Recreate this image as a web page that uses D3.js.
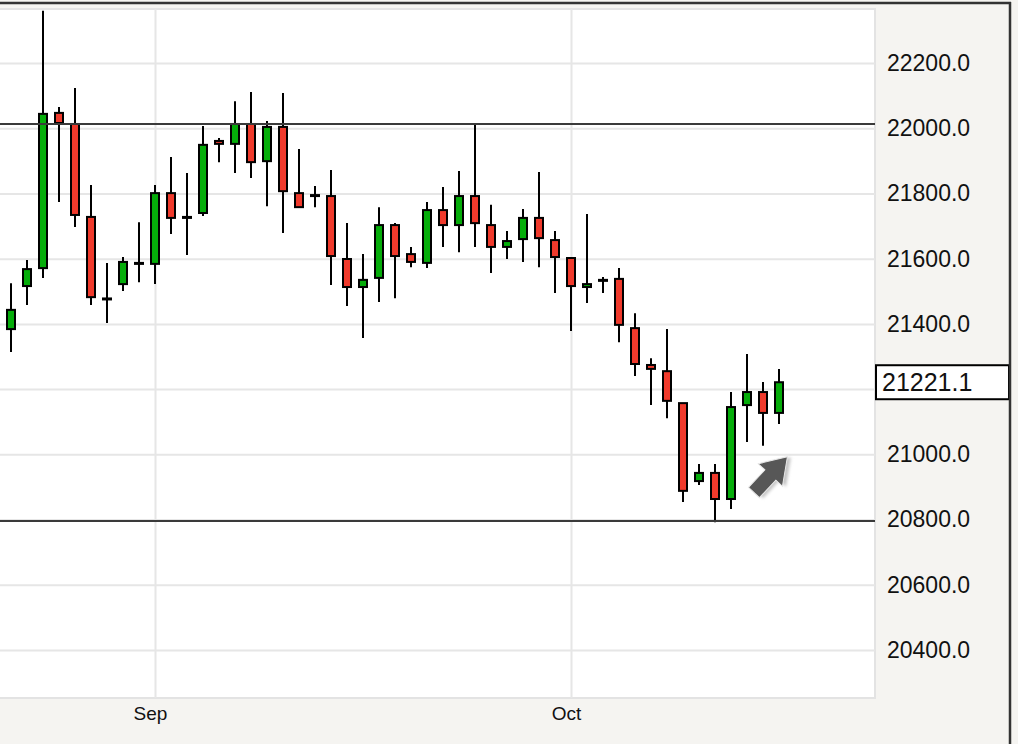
<!DOCTYPE html>
<html>
<head>
<meta charset="utf-8">
<script src="https://cdn.jsdelivr.net/npm/d3@7"></script>
<style>
  body { margin: 0; background: #f5f4f1; }
  svg { display: block; font-family: "Liberation Sans", Arial, sans-serif; }
</style>
</head>
<body>
<script>
// candle index (-1 is the one cut off at the left edge)
var days = d3.range(-1, 49);
var opens = [21341, 21384, 21516, 21571, 22047, 22013, 21728, 21478, 21522, 21587,
  21584, 21801, 21728, 21740, 21961, 21952, 22013, 21899, 22004, 21801,
  21795, 21792, 21599, 21513, 21541, 21703, 21614, 21587, 21749, 21703,
  21792, 21703, 21636, 21660, 21725, 21657, 21602, 21513, 21535, 21538,
  21387, 21274, 21255, 21157, 20918, 20943, 20863, 21151, 21191, 21127];
var highs = [21400, 21525, 21596, 22360, 22065, 22123, 21826, 21587, 21605, 21712,
  21826, 21912, 21863, 22007, 21970, 22083, 22111, 22022, 22108, 21936,
  21823, 21872, 21709, 21614, 21758, 21709, 21636, 21774, 21820, 21869,
  22013, 21765, 21685, 21752, 21866, 21685, 21605, 21737, 21544, 21571,
  21433, 21295, 21384, 21157, 20970, 20970, 21191, 21308, 21222, 21262];
var lows = [21320, 21314, 21458, 21541, 21774, 21697, 21458, 21403, 21501, 21528,
  21522, 21676, 21611, 21731, 21896, 21863, 21847, 21761, 21679, 21755,
  21758, 21519, 21455, 21357, 21467, 21479, 21574, 21571, 21636, 21620,
  21636, 21556, 21599, 21590, 21574, 21495, 21378, 21464, 21495, 21344,
  21240, 21151, 21111, 20854, 20906, 20792, 20832, 21038, 21026, 21093];
var closes = [21375, 21443, 21568, 22044, 22016, 21734, 21482, 21478, 21590, 21587,
  21801, 21725, 21728, 21949, 21952, 22013, 21896, 22004, 21807, 21758,
  21795, 21608, 21513, 21535, 21703, 21608, 21590, 21749, 21703, 21792,
  21709, 21636, 21654, 21725, 21663, 21605, 21516, 21522, 21535, 21397,
  21277, 21262, 21164, 20888, 20943, 20863, 21145, 21191, 21127, 21221.1];

var monthTicks = [9, 35];
var monthLabels = ["Sep", "Oct"];
var priceTicks = [20400, 20600, 20800, 21000, 21200, 21400, 21600, 21800, 22000, 22200];
var levels = [22013, 20795];
var lastPrice = 21221.1;

var width = 1018, height = 744;
var plot = {left: 0, right: 875, top: 9, bottom: 698};
var green = "#05ad0a", red = "#f03a2c";

var svg = d3.select("body").append("svg")
  .attr("width", width)
  .attr("height", height);

svg.append("rect")
  .attr("width", width).attr("height", height)
  .attr("fill", "#f5f4f1");

var x = d3.scaleLinear().domain([0, 48]).range([11, 779]);
var y = d3.scaleLinear().domain([20400, 22200]).range([650, 63]);

svg.append("defs").append("clipPath").attr("id", "plotclip")
  .append("rect")
  .attr("x", plot.left).attr("y", plot.top)
  .attr("width", plot.right - plot.left).attr("height", plot.bottom - plot.top);

svg.append("rect")
  .attr("x", plot.left - 2).attr("y", plot.top)
  .attr("width", plot.right - plot.left + 2).attr("height", plot.bottom - plot.top)
  .attr("fill", "#fff")
  .attr("stroke", "#e3e3e3")
  .attr("stroke-width", 2);

// price axis + horizontal grid
var yAxis = svg.append("g")
  .attr("transform", "translate(" + plot.right + ",0)")
  .call(d3.axisRight(y)
    .tickValues(priceTicks)
    .tickFormat(d3.format(".1f"))
    .tickSize(-(plot.right - plot.left))
    .tickPadding(12));
yAxis.select(".domain").remove();
yAxis.selectAll(".tick line").attr("stroke", "#e6e6e6").attr("stroke-width", 2);
yAxis.selectAll(".tick text")
  .attr("fill", "#111")
  .style("font-size", "23px")
  .filter(d => d === 21200).remove();

// month axis + vertical grid
var xAxis = svg.append("g")
  .attr("transform", "translate(0," + plot.bottom + ")")
  .call(d3.axisBottom(x)
    .tickValues(monthTicks)
    .tickFormat((d, i) => monthLabels[i])
    .tickSize(-(plot.bottom - plot.top))
    .tickPadding(9));
xAxis.select(".domain").remove();
xAxis.selectAll(".tick line").attr("stroke", "#e6e6e6").attr("stroke-width", 2);
xAxis.selectAll(".tick text")
  .attr("fill", "#111")
  .attr("dx", -5)
  .style("font-size", "19px");

// candles
var candles = svg.append("g")
  .attr("clip-path", "url(#plotclip)")
  .selectAll("g")
  .data(days)
  .enter()
  .append("g");

candles.append("line")
  .attr("x1", (d, i) => x(d))
  .attr("x2", (d, i) => x(d))
  .attr("y1", (d, i) => y(highs[i]))
  .attr("y2", (d, i) => y(lows[i]))
  .attr("stroke", "#000")
  .attr("stroke-width", 2);

candles.append("rect")
  .attr("x", d => x(d) - 4)
  .attr("width", 8)
  .attr("y", (d, i) => y(Math.max(opens[i], closes[i])))
  .attr("height", (d, i) => Math.max(1, Math.abs(y(opens[i]) - y(closes[i]))))
  .attr("fill", (d, i) => closes[i] > opens[i] ? green : closes[i] < opens[i] ? red : "#000")
  .attr("stroke", "#000")
  .attr("stroke-width", 2);

// support / resistance
svg.append("g")
  .selectAll("line")
  .data(levels)
  .enter()
  .append("line")
  .attr("x1", plot.left).attr("x2", plot.right)
  .attr("y1", d => Math.round(y(d)))
  .attr("y2", d => Math.round(y(d)))
  .attr("stroke", "#3a3a3a")
  .attr("stroke-width", 2);

// arrow
var defs = svg.select("defs");
var f = defs.append("filter").attr("id", "shadow")
  .attr("x", "-50%").attr("y", "-50%").attr("width", "200%").attr("height", "200%");
f.append("feGaussianBlur").attr("stdDeviation", 1.6);

var arrowPath = "M0,-7.5 L24,-7.5 L24,-16.5 L49,0 L24,16.5 L24,7.5 L0,7.5 Z";
var arrow = svg.append("g")
  .attr("transform", "translate(" + (x(46) + 7) + "," + (y(20800) - 27) + ") rotate(-47)");
arrow.append("path")
  .attr("d", arrowPath)
  .attr("transform", "translate(2,3)")
  .attr("fill", "#c4c4c4")
  .attr("filter", "url(#shadow)");
arrow.append("path")
  .attr("d", arrowPath)
  .attr("fill", "#575757")
  .attr("stroke", "#e8e8e8")
  .attr("stroke-width", 1);

// last price box
var box = svg.append("g")
  .attr("transform", "translate(" + plot.right + "," + y(lastPrice) + ")");
box.append("rect")
  .attr("x", 1).attr("y", -17)
  .attr("width", 133).attr("height", 34)
  .attr("fill", "#fff")
  .attr("stroke", "#000")
  .attr("stroke-width", 2);
box.append("text")
  .attr("x", 7).attr("dy", "0.35em")
  .attr("fill", "#111")
  .style("font-size", "25px")
  .text(d3.format(".1f")(lastPrice));

// outer frame
svg.append("line")
  .attr("x1", 0).attr("x2", 1011).attr("y1", 3).attr("y2", 3)
  .attr("stroke", "#333").attr("stroke-width", 2.5);
svg.append("line")
  .attr("x1", 1010).attr("x2", 1010).attr("y1", 2).attr("y2", height)
  .attr("stroke", "#333").attr("stroke-width", 2.5);
</script>
</body>
</html>
